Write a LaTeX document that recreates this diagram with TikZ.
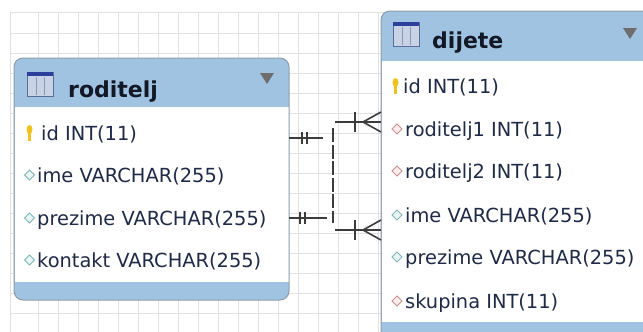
\documentclass[tikz,border=0pt]{standalone}
\usepackage{fontspec}
\setmainfont{DejaVu Sans}
\definecolor{hdrblue}{HTML}{A0C3E1}
\definecolor{bordc}{HTML}{8E9DAC}
\definecolor{gridc}{HTML}{E1E1E1}
\definecolor{rowc}{HTML}{1E2A46}
\definecolor{titc}{HTML}{121826}
\definecolor{linec}{HTML}{3C3C3C}
\definecolor{tealo}{HTML}{7FB6BA}
\definecolor{tealf}{HTML}{EAF5F5}
\definecolor{pinko}{HTML}{CF8F90}
\definecolor{pinkf}{HTML}{FBEDED}
\definecolor{keyc}{HTML}{EFC21F}
\definecolor{iconfill}{HTML}{C9D3E6}
\definecolor{iconbord}{HTML}{5A6C98}
\definecolor{icontop}{HTML}{2C3F9C}
\definecolor{trig}{HTML}{6E6E6E}
\newcommand\erdiam[3]{\draw[#1] (#2,#3) +(-5,0) -- +(0,-5) -- +(5,0) -- +(0,5) -- cycle;}
\newcommand\erkey[2]{\fill[keyc] (#1,#2) +(0,-3.5) ellipse (3 and 4.5); \fill[keyc] (#1,#2) +(-1.3,-1) rectangle +(1.3,7.5);}
\newcommand\ertblicon[2]{%
  \fill[iconfill] (#1,#2) rectangle ++(26,24);
  \draw[iconbord, line width=0.8pt] (#1,#2) rectangle ++(26,24);
  \fill[icontop] (#1,#2) rectangle ++(26,3.5);
  \draw[iconbord!70, line width=0.7pt] (#1,#2) ++(9,5) -- ++(0,18);
  \draw[iconbord!70, line width=0.7pt] (#1,#2) ++(17.5,5) -- ++(0,18);}
\begin{document}
\begin{tikzpicture}[x=1pt,y=-1pt,
  rowtxt/.style={anchor=base west, inner sep=0pt, font=\fontsize{19.4}{24}\selectfont, text=rowc},
  titletxt/.style={anchor=base west, inner sep=0pt, font=\fontsize{22}{26}\selectfont\bfseries, text=titc},
  conn/.style={draw=linec, line width=1.6pt},
  barmark/.style={draw=linec, line width=1.8pt},
  tealdiam/.style={draw=tealo, fill=tealf, line width=1pt},
  pinkdiam/.style={draw=pinko, fill=pinkf, line width=1pt},
  tblborder/.style={draw=bordc, line width=1pt, rounded corners=9pt}]
\useasboundingbox (0,0) rectangle (643,332);
\fill[white] (0,0) rectangle (643,332);
% grid
\foreach \gx in {10,38,58,...,638} \draw[gridc, line width=0.8pt] (\gx,12) -- (\gx,332);
\foreach \gy in {12,33,53,...,313} \draw[gridc, line width=0.8pt] (10,\gy) -- (643,\gy);
% ---------- roditelj table ----------
\fill[hdrblue, rounded corners=9pt] (14,58) rectangle (289,300);
\fill[white] (14.5,107) rectangle (288.5,282);
\draw[tblborder] (14,58) rectangle (289,300);
\ertblicon{27}{72}
\node[titletxt] (rtitle) at (68,97) {roditelj};
\fill[trig] (260,73) -- (274,73) -- (267,84) -- cycle;
\erkey{29.5}{133}
\node[rowtxt] (rid) at (41,140) {id INT(11)};
\erdiam{tealdiam}{29.5}{175}
\node[rowtxt] (rime) at (37,182) {ime VARCHAR(255)};
\erdiam{tealdiam}{29.5}{218}
\node[rowtxt] (rprez) at (37,225) {prezime VARCHAR(255)};
\erdiam{tealdiam}{29.5}{260}
\node[rowtxt] (rkont) at (37,267) {kontakt VARCHAR(255)};
% ---------- dijete table ----------
\fill[hdrblue, rounded corners=9pt] (381,11) rectangle (670,360);
\fill[white] (381.5,61) rectangle (670,322);
\draw[tblborder] (381,11) rectangle (670,360);
\ertblicon{393}{22}
\node[titletxt] (dtitle) at (432,48) {dijete};
\fill[trig] (623,28) -- (637,28) -- (630,39) -- cycle;
\erkey{395.5}{86}
\node[rowtxt] (did) at (403,93) {id INT(11)};
\erdiam{pinkdiam}{397}{129}
\node[rowtxt] (dr1) at (405,136) {roditelj1 INT(11)};
\erdiam{pinkdiam}{397}{171}
\node[rowtxt] (dr2) at (405,178) {roditelj2 INT(11)};
\erdiam{tealdiam}{397}{215}
\node[rowtxt] (dime) at (405,222) {ime VARCHAR(255)};
\erdiam{tealdiam}{397}{257}
\node[rowtxt] (dprez) at (405,264) {prezime VARCHAR(255)};
\erdiam{pinkdiam}{397}{301}
\node[rowtxt] (dskup) at (405,308) {skupina INT(11)};
% ---------- connectors ----------
\coordinate (l1a) at (289,138); \coordinate (l1b) at (323,138);
\coordinate (l2a) at (289,218); \coordinate (l2b) at (327,218);
\coordinate (vt) at (333,128);  \coordinate (vb) at (333,223);
\coordinate (r1a) at (335,122); \coordinate (r1c) at (363,122); \coordinate (r1b) at (381,122);
\coordinate (r2a) at (335,230); \coordinate (r2c) at (363,230); \coordinate (r2b) at (381,230);
\draw[conn] (l1a) -- (l1b);
\draw[barmark] (302,132) -- (302,144);
\draw[barmark] (307,132) -- (307,144);
\draw[conn] (l2a) -- (l2b);
\draw[barmark] (300,212) -- (300,224);
\draw[barmark] (305,212) -- (305,224);
\draw[conn, dash pattern=on 14pt off 2.5pt] (vt) -- (vb);
\draw[conn] (r1a) -- (r1b);
\draw[barmark] (355,112) -- (355,132);
\draw[conn] (r1c) -- (381,112);
\draw[conn] (r1c) -- (381,132);
\draw[conn] (r2a) -- (r2b);
\draw[barmark] (355,220) -- (355,240);
\draw[conn] (r2c) -- (381,220);
\draw[conn] (r2c) -- (381,240);
\end{tikzpicture}
\end{document}
